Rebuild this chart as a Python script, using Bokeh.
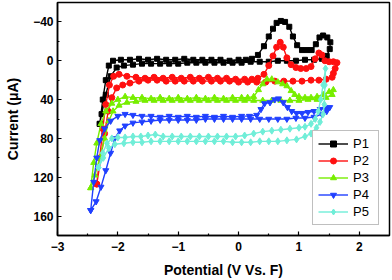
from bokeh.plotting import figure
from bokeh.models import Range1d, FixedTicker
from bokeh.embed import file_html
from bokeh.resources import INLINE

# ---------------- data (cyclic voltammograms, current in uA) ----------------
p1_x = [-2.30, -2.25, -2.20, -2.15, -2.08, -1.95, -1.80, -1.65, -1.50, -1.35, -1.20, -1.05, -0.90, -0.75,
        -0.60, -0.45, -0.30, -0.15, 0.00, 0.12, 0.22, 0.32, 0.42, 0.50, 0.57, 0.63, 0.70, 0.77, 0.84,
        0.90, 0.97, 1.05, 1.13, 1.21, 1.28, 1.34, 1.40, 1.47, 1.52, 1.51, 1.46,
        1.38, 1.25, 1.10, 0.95, 0.80, 0.65, 0.50, 0.35, 0.20, 0.05, -0.10, -0.25, -0.40, -0.55, -0.70,
        -0.85, -1.00, -1.15, -1.30, -1.45, -1.60, -1.75, -1.90, -2.02, -2.12, -2.20, -2.27, -2.30]
p1_y = [65, 40, 20, 5, 0, -1, -1, -2, -1, -2, -1, -1, -2, -1,
        -1, -1, -1, 0, -1, -1, -2, -6, -15, -25, -33, -39, -41, -40, -35,
        -25, -16, -11, -11, -11, -17, -24, -26, -24, -19, -12, -5,
        -2, -1, -1, 0, 0, 0, 1, 1, 1, 2, 2, 2, 2, 2, 2,
        2, 3, 3, 3, 3, 3, 4, 5, 7, 16, 35, 55, 65]

p2_x = [-2.35, -2.30, -2.25, -2.20, -2.14, -2.07, -1.98, -1.85, -1.70, -1.55, -1.40, -1.25, -1.10, -0.95,
        -0.80, -0.65, -0.50, -0.35, -0.20, -0.05, 0.10, 0.22, 0.32, 0.42, 0.50, 0.57, 0.63, 0.69, 0.74,
        0.80, 0.87, 0.95, 1.03, 1.12, 1.20, 1.27, 1.33, 1.38, 1.43, 1.50, 1.57, 1.63, 1.60, 1.57, 1.55,
        1.45, 1.33, 1.20, 1.05, 0.90, 0.75, 0.60, 0.45, 0.30, 0.15, 0.00, -0.15, -0.30, -0.45, -0.60,
        -0.75, -0.90, -1.05, -1.20, -1.35, -1.50, -1.65, -1.80, -1.92, -2.02, -2.10, -2.16, -2.22, -2.28, -2.35]
p2_y = [127, 100, 70, 45, 25, 16, 14, 16, 17, 18, 17, 18, 17, 18,
        17, 18, 17, 18, 18, 19, 19, 19, 18, 14, 5, -5, -14, -19, -14,
        -3, 4, 7, 8, 8, 6, -2, -8, -6, 0, 1, 1, 2, 8, 13, 17,
        19, 20, 20, 21, 21, 21, 21, 22, 22, 22, 22, 21, 21, 21, 21,
        21, 21, 21, 21, 20, 20, 21, 23, 25, 28, 38, 52, 75, 100, 127]

p3_x = [-2.45, -2.40, -2.35, -2.28, -2.20, -2.10, -2.00, -1.88, -1.75, -1.60, -1.45, -1.30, -1.15, -1.00,
        -0.85, -0.70, -0.55, -0.40, -0.25, -0.10, 0.05, 0.15, 0.25, 0.33, 0.40, 0.47, 0.55, 0.65, 0.73,
        0.80, 0.87, 0.93, 1.00, 1.10, 1.20, 1.30, 1.40, 1.50, 1.57, 1.55, 1.45,
        1.30, 1.15, 1.00, 0.85, 0.70, 0.55, 0.40, 0.25, 0.10, -0.05, -0.20, -0.35, -0.50, -0.65, -0.80,
        -0.95, -1.10, -1.25, -1.40, -1.55, -1.70, -1.85, -1.98, -2.08, -2.15, -2.22, -2.30, -2.38, -2.45]
p3_y = [131, 105, 85, 65, 52, 44, 40, 37, 38, 38, 39, 38, 39, 38,
        39, 38, 39, 38, 39, 38, 38, 38, 37, 30, 24, 19, 19, 22, 24,
        26, 31, 35, 37, 38, 38, 37, 35, 32, 30, 35, 38,
        40, 40, 41, 41, 41, 41, 41, 41, 41, 41, 41, 41, 41, 41, 41,
        41, 41, 41, 41, 41, 42, 43, 46, 52, 62, 80, 100, 118, 131]

p4_x = [-2.45, -2.40, -2.35, -2.30, -2.22, -2.12, -2.00, -1.88, -1.75, -1.60, -1.45, -1.30, -1.15, -1.00,
        -0.85, -0.70, -0.55, -0.40, -0.25, -0.10, 0.05, 0.18, 0.30, 0.37, 0.43, 0.52, 0.60, 0.66, 0.74,
        0.81, 0.88, 0.96, 1.05, 1.15, 1.25, 1.35, 1.45, 1.51, 1.46, 1.38,
        1.25, 1.10, 0.95, 0.80, 0.65, 0.50, 0.35, 0.20, 0.05, -0.10, -0.25, -0.40, -0.55, -0.70, -0.85,
        -1.00, -1.15, -1.30, -1.45, -1.60, -1.75, -1.88, -1.97, -2.05, -2.12, -2.20, -2.28, -2.36, -2.45]
p4_y = [154, 125, 100, 82, 70, 62, 57, 55, 56, 57, 57, 58, 57, 58,
        57, 58, 57, 58, 57, 58, 57, 57, 56, 50, 44, 43, 40, 39, 43,
        48, 52, 54, 54, 53, 52, 50, 49, 48, 52, 55,
        58, 59, 59, 60, 60, 60, 60, 60, 60, 60, 60, 60, 60, 61, 61,
        61, 61, 61, 62, 63, 64, 67, 72, 80, 95, 113, 130, 145, 154]

p5_x = [-2.32, -2.25, -2.18, -2.10, -2.00, -1.88, -1.75, -1.62, -1.50, -1.38, -1.25, -1.10, -0.95, -0.80,
        -0.65, -0.50, -0.35, -0.20, -0.05, 0.10, 0.25, 0.40, 0.55, 0.70, 0.85, 1.00, 1.10, 1.20, 1.27,
        1.32, 1.36, 1.40, 1.44, 1.43, 1.42, 1.40, 1.35, 1.29, 1.20, 1.10, 0.96, 0.80, 0.65, 0.50, 0.35,
        0.20, 0.05, -0.10, -0.25, -0.40, -0.55, -0.70, -0.85, -1.00, -1.15, -1.30, -1.45, -1.60, -1.75,
        -1.90, -2.05, -2.15, -2.24, -2.32]
p5_y = [110, 95, 85, 80, 79, 79, 78, 78, 77, 76, 78, 78, 78, 78,
        78, 78, 78, 78, 78, 77, 75, 73, 72, 71, 70, 69, 68, 65, 60,
        52, 40, 25, 8, 25, 45, 55, 63, 69, 75, 78, 81, 82, 83, 83, 83,
        84, 84, 84, 83, 83, 83, 83, 83, 83, 83, 83, 83, 84, 84,
        85, 86, 90, 100, 110]

series_names = ["P1", "P2", "P3", "P4", "P5"]
x_ticks = [-3, -2, -1, 0, 1, 2]
y_ticks = [-40, 0, 40, 80, 120, 160]

# ---------------- figure ----------------
p = figure(width=392, height=280, output_backend="svg", toolbar_location=None,
           x_range=Range1d(-3, 2.5), y_range=Range1d(180, -60),
           min_border_left=57, min_border_right=3, min_border_top=2, min_border_bottom=43)
p.background_fill_color = "white"
p.border_fill_color = "white"
p.outline_line_color = "black"
p.outline_line_width = 1.5
p.grid.visible = False

p.xaxis.ticker = FixedTicker(ticks=x_ticks, minor_ticks=[-2.5, -1.5, -0.5, 0.5, 1.5])
p.yaxis.ticker = FixedTicker(ticks=y_ticks, minor_ticks=[-20, 20, 60, 100, 140])

for ax in (p.xaxis[0], p.yaxis[0]):
    ax.axis_line_width = 1.5
    ax.axis_line_color = "black"
    ax.major_tick_in = 4
    ax.major_tick_out = 0
    ax.minor_tick_in = 2
    ax.minor_tick_out = 0
    ax.major_tick_line_width = 1.2
    ax.minor_tick_line_width = 1.2
    ax.major_label_text_font = "Liberation Sans"
    ax.major_label_text_font_style = "bold"
    ax.major_label_text_font_size = "12px"
    ax.major_label_text_color = "black"
    ax.axis_label_text_font = "Liberation Sans"
    ax.axis_label_text_font_style = "bold"
    ax.axis_label_text_font_size = "14px"
    ax.axis_label_text_color = "black"

p.xaxis.major_label_standoff = 6
p.xaxis.axis_label_standoff = 8
p.yaxis.major_label_standoff = 4
p.yaxis.axis_label_standoff = 9

p.xaxis.axis_label = "Potential (V Vs. F)"
p.yaxis.axis_label = "Current (\u03bcA)"

xs = [p1_x, p2_x, p3_x, p4_x, p5_x]
ys = [p1_y, p2_y, p3_y, p4_y, p5_y]
colors = ["black", "#FF1010", "#77EE00", "#2040FF", "#70EED8"]
markers = ["square", "circle", "triangle", "inverted_triangle", "diamond"]
sizes = [5, 6, 6, 6, 7]

for x, y, c, m, s, name in zip(xs, ys, colors, markers, sizes, series_names):
    p.line(x, y, line_color=c, line_width=1.4, legend_label=name)
    p.scatter(x, y, marker=m, size=s, fill_color=c, line_color=c, legend_label=name)

lg = p.legend[0]
lg.location = "bottom_right"
lg.margin = 10
lg.padding = 5
lg.spacing = 2
lg.glyph_width = 30
lg.glyph_height = 15
lg.label_height = 15
lg.label_standoff = 5
lg.label_text_font = "Liberation Sans"
lg.label_text_font_size = "13px"
lg.label_text_color = "black"
lg.border_line_color = "#808080"
lg.border_line_width = 1
lg.background_fill_alpha = 1.0

open("out.html", "w").write(file_html(p, INLINE))
